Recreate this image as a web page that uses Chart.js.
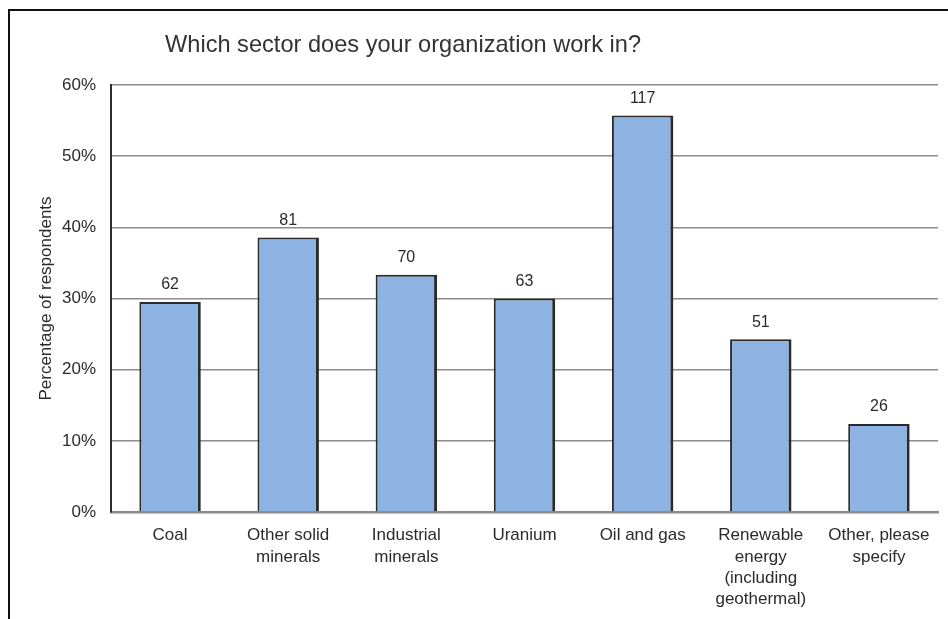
<!DOCTYPE html>
<html>
<head>
<meta charset="utf-8">
<script src="https://cdn.jsdelivr.net/npm/chart.js@4"></script>
<style>
  html, body { margin: 0; padding: 0; background: #fff; }
  #wrap { position: relative; width: 948px; height: 619px; }
  #frame {
    position: absolute; left: 8px; top: 9px; right: 0; bottom: 0;
    border-top: 2px solid #111; border-left: 2px solid #111;
    pointer-events: none;
  }
  canvas { display: block; }
</style>
</head>
<body>
<div id="wrap">
  <canvas id="chart" width="948" height="619"></canvas>
  <div id="frame"></div>
</div>
<script>
  // ======================================
  // Data
  // ======================================
  const sectors = [
    'Coal',
    ['Other solid', 'minerals'],
    ['Industrial', 'minerals'],
    'Uranium',
    'Oil and gas',
    ['Renewable', 'energy', '(including', 'geothermal)'],
    ['Other, please', 'specify']
  ];
  const counts = [62, 81, 70, 63, 117, 51, 26];
  const totalRespondents = 210;
  const yTicks = [0, 10, 20, 30, 40, 50, 60];

  const percents = counts.map(c => c / totalRespondents * 100);

  const FONT = "'Liberation Sans', Arial, sans-serif";
  const TEXT = '#2b2b2b';

  // ======================================
  // Plugins: title text and count labels
  // ======================================
  const titlePlugin = {
    id: 'titleText',
    afterDraw(chart) {
      const ctx = chart.ctx;
      ctx.save();
      ctx.font = `23.6px ${FONT}`;
      ctx.fillStyle = '#333333';
      ctx.textAlign = 'left';
      ctx.textBaseline = 'alphabetic';
      ctx.fillText('Which sector does your organization work in?', 165, 52);
      ctx.restore();
    }
  };

  const countLabels = {
    id: 'countLabels',
    afterDatasetsDraw(chart) {
      const ctx = chart.ctx;
      const meta = chart.getDatasetMeta(0);
      ctx.save();
      ctx.font = `16px ${FONT}`;
      ctx.fillStyle = TEXT;
      ctx.textAlign = 'center';
      ctx.textBaseline = 'middle';
      meta.data.forEach((bar, i) => {
        ctx.fillText(String(counts[i]), bar.x, bar.y - 17);
      });
      ctx.restore();
    }
  };

  // ======================================
  // Chart
  // ======================================
  new Chart(document.getElementById('chart'), {
    type: 'bar',
    data: {
      labels: sectors,
      datasets: [{
        data: percents,
        backgroundColor: '#8db3e2',
        borderColor: '#2a2a2a',
        borderWidth: { top: 2, left: 2, right: 3, bottom: 0 },
        borderSkipped: 'start',
        categoryPercentage: 1,
        barPercentage: 0.52
      }]
    },
    options: {
      responsive: false,
      animation: false,
      layout: { padding: { top: 85, right: 10, left: 0, bottom: 0 } },
      plugins: {
        legend: { display: false },
        tooltip: { enabled: false }
      },
      scales: {
        x: {
          grid: { display: false, drawTicks: false },
          border: { color: '#8a8a8a', width: 2.5 },
          ticks: {
            color: TEXT,
            font: { family: FONT, size: 17, lineHeight: 1.25 },
            padding: 13,
            maxRotation: 0,
            autoSkip: false
          },
          afterFit(scale) { scale.height = 107; }
        },
        y: {
          min: 0,
          max: 60,
          afterBuildTicks(scale) {
            scale.ticks = yTicks.map(v => ({ value: v }));
          },
          grid: { color: '#8c8c8c', lineWidth: 1.5, drawTicks: false },
          border: { color: '#2e2e2e', width: 2 },
          ticks: {
            color: TEXT,
            font: { family: FONT, size: 17 },
            padding: 15,
            callback: v => v + '%'
          },
          title: {
            display: true,
            text: 'Percentage of respondents',
            color: TEXT,
            font: { family: FONT, size: 17 },
            padding: { top: 36, bottom: 0 }
          },
          afterFit(scale) { scale.width = 111; }
        }
      }
    },
    plugins: [titlePlugin, countLabels]
  });
</script>
</body>
</html>
